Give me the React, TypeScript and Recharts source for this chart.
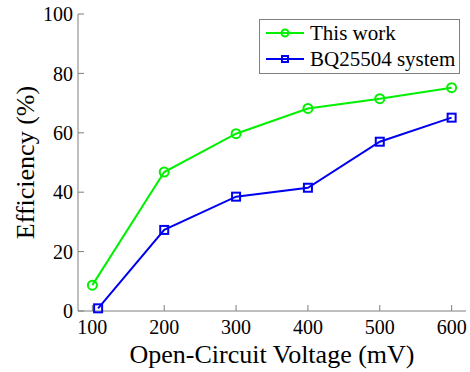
import React from "react";
import {
  LineChart,
  Line,
  XAxis,
  YAxis,
  Legend,
} from "recharts";

// Efficiency vs open-circuit voltage
const thisWorkVoltage = [100, 200, 300, 400, 500, 600];
const thisWorkEff = [8.7, 46.8, 59.7, 68.2, 71.5, 75.2];

const bqVoltage = [108, 200, 300, 400, 500, 600];
const bqEff = [0.9, 27.3, 38.5, 41.5, 57.0, 65.1];

const xTicks = [100, 200, 300, 400, 500, 600];
const yTicks = [0, 20, 40, 60, 80, 100];

const SERIES_NAMES = ["This work", "BQ25504 system"];
const GREEN = "#00F000";
const BLUE = "#0000F0";
const AXIS = "#7f7f7f";
const FONT = "'Liberation Serif', 'Times New Roman', serif";

const thisWorkData = thisWorkVoltage.map((v, i) => ({ v, eff: thisWorkEff[i] }));
const bqData = bqVoltage.map((v, i) => ({ v, eff: bqEff[i] }));

function CircleDot(props: any) {
  const { cx, cy } = props;
  if (cx == null || cy == null) return null;
  return <circle cx={cx} cy={cy} r={4.5} fill="none" stroke={GREEN} strokeWidth={2} />;
}

function SquareDot(props: any) {
  const { cx, cy } = props;
  if (cx == null || cy == null) return null;
  return (
    <rect x={cx - 4} y={cy - 4} width={8} height={8} fill="none" stroke={BLUE} strokeWidth={2} />
  );
}

function LegendBox() {
  const rows = [
    { name: SERIES_NAMES[0], color: GREEN, shape: "circle" },
    { name: SERIES_NAMES[1], color: BLUE, shape: "square" },
  ];
  return (
    <div
      style={{
        width: 201,
        height: 55,
        border: `1px solid ${AXIS}`,
        background: "#fff",
        boxSizing: "border-box",
        fontFamily: FONT,
        fontSize: 21,
        color: "#000",
        padding: "0 0 0 6px",
      }}
    >
      {rows.map((r) => (
        <div key={r.name} style={{ display: "flex", alignItems: "center", height: 26, lineHeight: "26px" }}>
          <svg width={40} height={14} style={{ marginRight: 4 }}>
            <line x1={0} y1={7} x2={38} y2={7} stroke={r.color} strokeWidth={2} />
            {r.shape === "circle" ? (
              <circle cx={19} cy={7} r={3.5} fill="none" stroke={r.color} strokeWidth={2} />
            ) : (
              <rect x={16} y={4} width={6} height={6} fill="none" stroke={r.color} strokeWidth={2} />
            )}
          </svg>
          <span>{r.name}</span>
        </div>
      ))}
    </div>
  );
}

export default function App() {
  return (
    <div style={{ position: "absolute", left: 0, top: 0, width: 470, height: 372, background: "#fff" }}>
      <LineChart width={470} height={372} margin={{ top: 14, right: 4, left: 18, bottom: 0 }}>
        <XAxis
          xAxisId="bottom"
          dataKey="v"
          type="number"
          domain={[80, 620]}
          ticks={xTicks}
          allowDuplicatedCategory={false}
          height={61}
          stroke={AXIS}
          tickSize={-6}
          tickMargin={15}
          tick={{ fill: "#000", fontSize: 20, fontFamily: FONT }}
          label={{
            value: "Open-Circuit Voltage (mV)",
            position: "insideBottom",
            offset: 9,
            fill: "#000",
            fontSize: 26,
            fontFamily: FONT,
          }}
        />
        <XAxis
          xAxisId="top"
          orientation="top"
          dataKey="v"
          type="number"
          domain={[80, 620]}
          ticks={xTicks}
          allowDuplicatedCategory={false}
          height={0}
          stroke={AXIS}
          tickSize={-6}
          tick={false}
        />
        <YAxis
          yAxisId="left"
          type="number"
          domain={[0, 100]}
          ticks={yTicks}
          width={60}
          stroke={AXIS}
          tickSize={-6}
          tickMargin={11}
          tick={{ fill: "#000", fontSize: 20, fontFamily: FONT }}
          label={{
            value: "Efficiency (%)",
            angle: -90,
            position: "insideLeft",
            offset: 7,
            style: { textAnchor: "middle" },
            fill: "#000",
            fontSize: 26,
            fontFamily: FONT,
          }}
        />
        <YAxis
          yAxisId="right"
          orientation="right"
          type="number"
          domain={[0, 100]}
          ticks={yTicks}
          width={0}
          stroke={AXIS}
          tickSize={-6}
          tick={false}
        />
        <Legend
          layout="vertical"
          align="center"
          verticalAlign="middle"
          content={() => <LegendBox />}
          wrapperStyle={{ left: 259, top: 19, width: 201, height: 55 }}
        />
        <Line
          xAxisId="bottom"
          yAxisId="left"
          data={thisWorkData}
          dataKey="eff"
          name={SERIES_NAMES[0]}
          stroke={GREEN}
          strokeWidth={2}
          type="linear"
          dot={<CircleDot />}
          activeDot={false}
          isAnimationActive={false}
        />
        <Line
          xAxisId="bottom"
          yAxisId="left"
          data={bqData}
          dataKey="eff"
          name={SERIES_NAMES[1]}
          stroke={BLUE}
          strokeWidth={2}
          type="linear"
          dot={<SquareDot />}
          activeDot={false}
          isAnimationActive={false}
        />
      </LineChart>
    </div>
  );
}
